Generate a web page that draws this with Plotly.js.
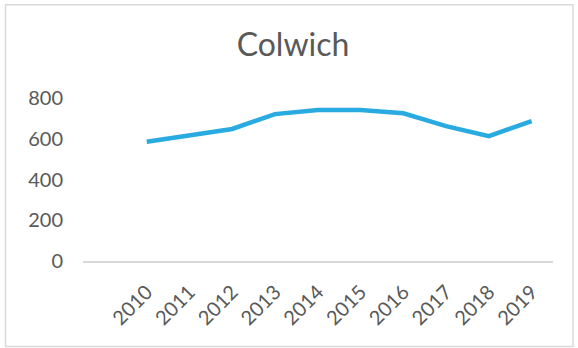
<!DOCTYPE html>
<html>
<head>
<meta charset="utf-8">
<script src="https://cdn.plot.ly/plotly-3.0.1.min.js"></script>
<style>
html,body{margin:0;padding:0;background:#fff;}
#chart{width:578px;height:348px;}
</style>
</head>
<body>
<div id="chart"></div>
<script>
const years = ["2010","2011","2012","2013","2014","2015","2016","2017","2018","2019"];
const values = [585, 618, 648, 721, 741, 741, 725, 662, 613, 687];
const yTicks = [0, 200, 400, 600, 800];
const titleText = "Colwich";

const trace = {
  x: years,
  y: values,
  type: "scatter",
  mode: "lines",
  line: {color: "#29abe2", width: 4.5},
  hoverinfo: "skip"
};

const layout = {
  width: 578,
  height: 348,
  margin: {l: 83, r: 25, t: 98, b: 87},
  paper_bgcolor: "#ffffff",
  plot_bgcolor: "#ffffff",
  showlegend: false,
  font: {family: "Lato, 'DejaVu Sans', sans-serif", color: "#595959"},
  title: {
    text: titleText,
    font: {family: "Lato, sans-serif", size: 32, color: "#595959"},
    x: 293/578, xref: "container", xanchor: "center",
    y: 1 - 45/348, yref: "container", yanchor: "middle"
  },
  xaxis: {
    type: "category",
    categoryarray: years,
    range: [-1.49, 9.5],
    showgrid: false,
    zeroline: false,
    showline: true,
    linecolor: "#d9d9d9",
    linewidth: 1.5,
    ticks: "",
    tickangle: -45,
    tickfont: {size: 20, color: "#595959"},
    ticklabelstandoff: 10,
    fixedrange: true
  },
  yaxis: {
    range: [0, 800],
    tickvals: yTicks,
    ticktext: yTicks.map(String),
    showgrid: false,
    zeroline: false,
    showline: false,
    ticks: "",
    tickfont: {size: 20, color: "#595959"},
    ticklabelstandoff: 19,
    fixedrange: true
  },
  shapes: [{
    type: "rect",
    xref: "paper", yref: "paper",
    x0: (5.5-83)/470, x1: (573-83)/470,
    y0: (261-346.5)/163, y1: (261-4.7)/163,
    line: {color: "#d9d9d9", width: 1.5},
    fillcolor: "rgba(0,0,0,0)",
    layer: "below"
  }]
};

Plotly.newPlot("chart", [trace], layout, {staticPlot: true, displayModeBar: false});
</script>
</body>
</html>
